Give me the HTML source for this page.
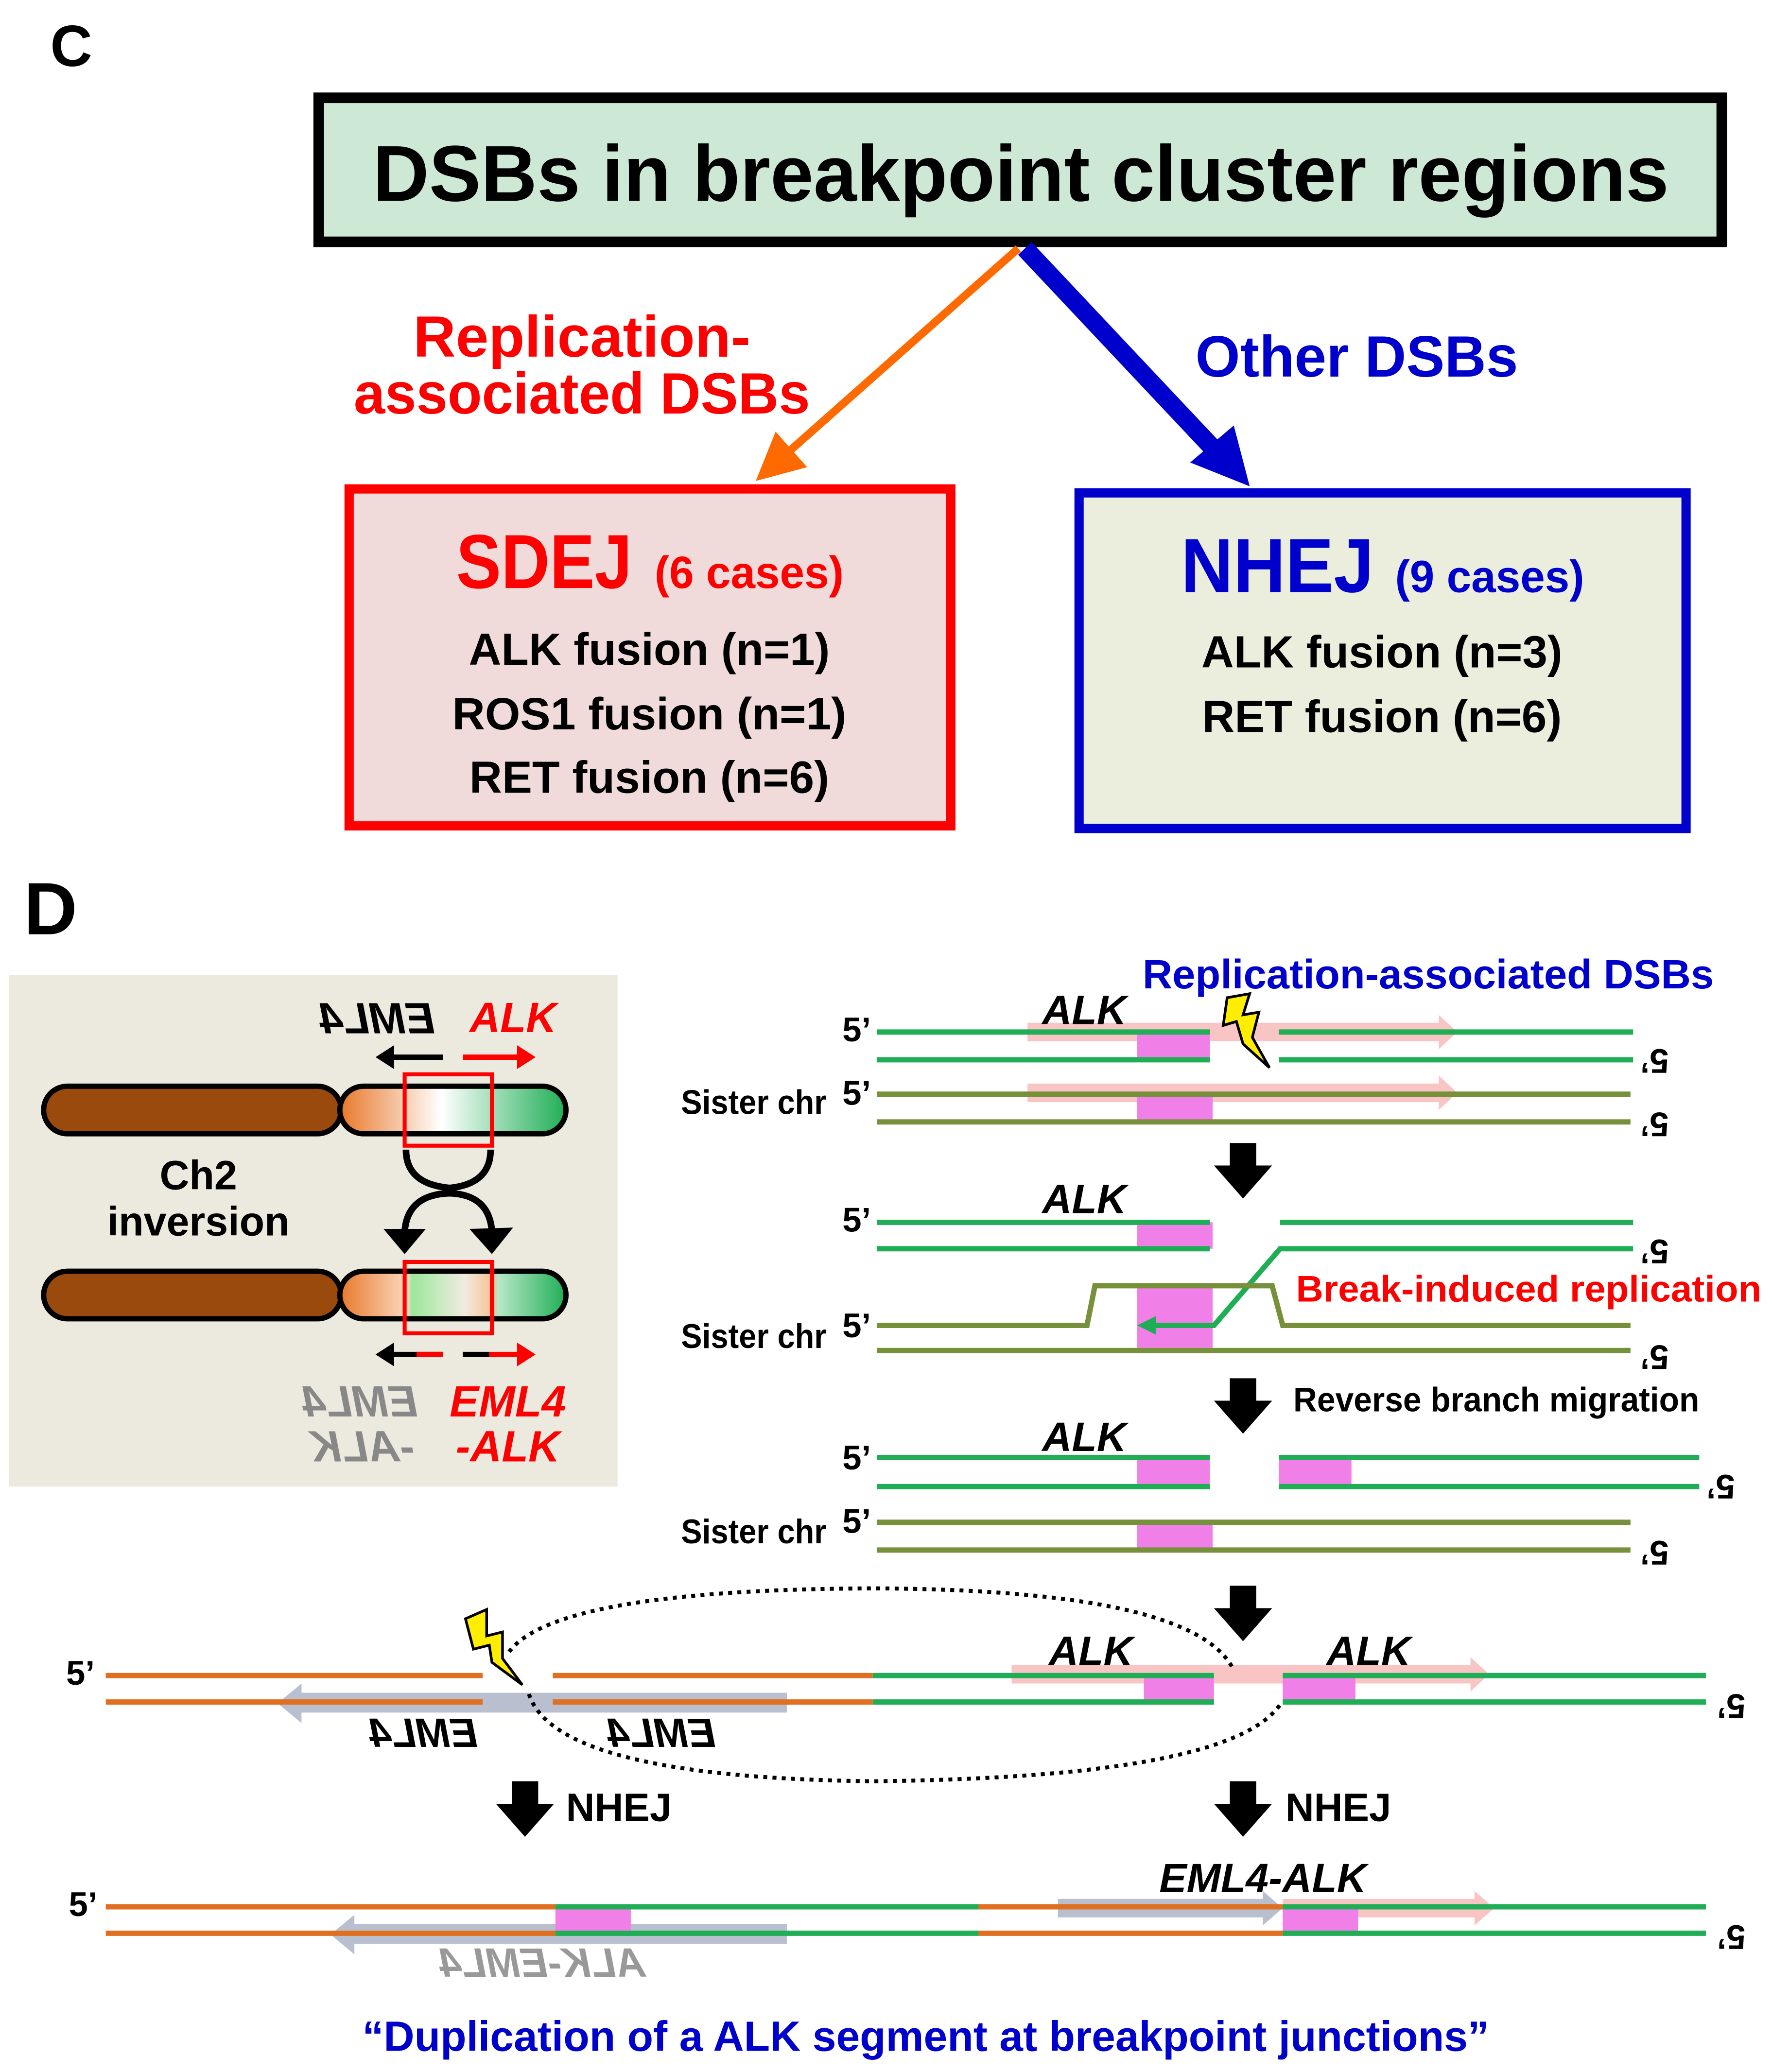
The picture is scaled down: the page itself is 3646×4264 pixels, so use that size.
<!DOCTYPE html>
<html><head><meta charset="utf-8"><style>html,body{margin:0;padding:0;background:#fff}svg{display:block}text{font-family:"Liberation Sans",sans-serif;font-weight:bold}</style></head>
<body>
<svg width="3646" height="4264" viewBox="0 0 1340 1568" preserveAspectRatio="none" xmlns="http://www.w3.org/2000/svg">
<defs>
<marker id="ao" markerWidth="6" markerHeight="6" refX="3" refY="3" orient="auto" markerUnits="strokeWidth"><path d="M0,0 L6,3 L0,6 z" fill="#ff6a00"/></marker>
<linearGradient id="g1" x1="0" x2="1"><stop offset="0" stop-color="#e8782a"/><stop offset="0.45" stop-color="#ffffff"/><stop offset="1" stop-color="#1fae55"/></linearGradient>
<linearGradient id="g2" x1="0" x2="1"><stop offset="0" stop-color="#e8782a"/><stop offset="0.3" stop-color="#fbd9c0"/><stop offset="0.32" stop-color="#9be89b"/><stop offset="0.55" stop-color="#f0ebe0"/><stop offset="0.68" stop-color="#f8c090"/><stop offset="0.7" stop-color="#b8e8c8"/><stop offset="1" stop-color="#1fae55"/></linearGradient>
</defs>
<rect width="1340" height="1568" fill="#fff"/>
<!-- C -->
<text x="38" y="50" font-size="44">C</text>
<rect x="241" y="74" width="1061" height="109" fill="#cde8d4" stroke="#000" stroke-width="8"/>
<text x="772" y="152" font-size="60" text-anchor="middle" textLength="980" lengthAdjust="spacingAndGlyphs">DSBs in breakpoint cluster regions</text>
<line x1="770" y1="188" x2="585" y2="352" stroke="#ff6a00" stroke-width="6" marker-end="url(#ao)"/>
<line x1="775" y1="188" x2="918" y2="340" stroke="#0000cc" stroke-width="14"/>
<path d="M900,350 L945,368 L933,322 z" fill="#0000cc"/>
<text x="440" y="270" font-size="44" fill="#ff0000" text-anchor="middle" textLength="255" lengthAdjust="spacingAndGlyphs">Replication-</text>
<text x="440" y="313" font-size="44" fill="#ff0000" text-anchor="middle" textLength="345" lengthAdjust="spacingAndGlyphs">associated DSBs</text>
<text x="1026" y="285" font-size="44" fill="#0000cc" text-anchor="middle" textLength="244" lengthAdjust="spacingAndGlyphs">Other DSBs</text>
<rect x="264" y="370" width="455" height="255" fill="#f0dada" stroke="#ff0000" stroke-width="7"/>
<text x="345" y="445" font-size="58" fill="#ff0000" textLength="133" lengthAdjust="spacingAndGlyphs">SDEJ</text>
<text x="495" y="445" font-size="34" fill="#ff0000" textLength="143" lengthAdjust="spacingAndGlyphs">(6 cases)</text>
<text x="491" y="503" font-size="34" text-anchor="middle" textLength="273" lengthAdjust="spacingAndGlyphs">ALK fusion (n=1)</text>
<text x="491" y="552" font-size="34" text-anchor="middle" textLength="298" lengthAdjust="spacingAndGlyphs">ROS1 fusion (n=1)</text>
<text x="491" y="600" font-size="34" text-anchor="middle" textLength="272" lengthAdjust="spacingAndGlyphs">RET fusion (n=6)</text>
<rect x="816" y="373" width="459" height="254" fill="#ebeedd" stroke="#0000cc" stroke-width="7"/>
<text x="893" y="448" font-size="58" fill="#0000cc" textLength="146" lengthAdjust="spacingAndGlyphs">NHEJ</text>
<text x="1055" y="448" font-size="34" fill="#0000cc" textLength="143" lengthAdjust="spacingAndGlyphs">(9 cases)</text>
<text x="1045" y="505" font-size="34" text-anchor="middle" textLength="273" lengthAdjust="spacingAndGlyphs">ALK fusion (n=3)</text>
<text x="1045" y="554" font-size="34" text-anchor="middle" textLength="272" lengthAdjust="spacingAndGlyphs">RET fusion (n=6)</text>
<!-- D -->
<text x="18" y="707" font-size="56">D</text>
<rect x="7" y="738" width="460" height="387" fill="#ece9df"/>
<rect x="33" y="822" width="225" height="36" rx="18" fill="#994a0c" stroke="#000" stroke-width="4"/>
<rect x="257" y="822" width="171" height="36" rx="18" fill="url(#g1)" stroke="#000" stroke-width="4"/>
<rect x="306" y="813" width="66" height="54" fill="none" stroke="#ff0000" stroke-width="3"/>
<rect x="33" y="962" width="225" height="36" rx="18" fill="#994a0c" stroke="#000" stroke-width="4"/>
<rect x="257" y="962" width="171" height="36" rx="18" fill="url(#g2)" stroke="#000" stroke-width="4"/>
<rect x="306" y="955" width="66" height="54" fill="none" stroke="#ff0000" stroke-width="3"/>
<text x="150" y="900" font-size="31" text-anchor="middle">Ch2</text>
<text x="150" y="935" font-size="31" text-anchor="middle">inversion</text>
<line x1="335" y1="800" x2="295" y2="800" stroke="#000" stroke-width="4"/><path d="M284,800 L298,791 L298,809z" fill="#000"/>
<line x1="350" y1="800" x2="393" y2="800" stroke="#f00" stroke-width="4"/><path d="M405,800 L391,791 L391,809z" fill="#f00"/>
<text transform="translate(285,782) scale(-1,1)" font-size="33" font-style="italic" text-anchor="middle">EML4</text>
<text x="388" y="781" font-size="32" font-style="italic" fill="#f00" text-anchor="middle">ALK</text>
<path d="M307,870 Q307,896 340,899 Q371,896 371,870" fill="none" stroke="#000" stroke-width="5"/>
<path d="M306,932 Q308,904 340,903 Q370,904 372,932" fill="none" stroke="#000" stroke-width="5"/>
<path d="M290,930 L322,930 L306,949z" fill="#000"/><path d="M355,930 L388,929 L372,949z" fill="#000"/>
<line x1="335" y1="1025" x2="295" y2="1025" stroke="#000" stroke-width="4"/><line x1="315" y1="1025" x2="335" y2="1025" stroke="#f00" stroke-width="4"/><path d="M284,1025 L298,1016 L298,1034z" fill="#000"/>
<line x1="350" y1="1025" x2="370" y2="1025" stroke="#000" stroke-width="4"/><line x1="370" y1="1025" x2="393" y2="1025" stroke="#f00" stroke-width="4"/><path d="M405,1025 L391,1016 L391,1034z" fill="#f00"/>
<text transform="translate(272,1072) scale(-1,1)" font-size="33" font-style="italic" fill="#888" text-anchor="middle">EML4</text>
<text transform="translate(274,1106) scale(-1,1)" font-size="33" font-style="italic" fill="#888" text-anchor="middle">-ALK</text>
<text x="384" y="1072" font-size="33" font-style="italic" fill="#f00" text-anchor="middle">EML4</text>
<text x="384" y="1106" font-size="33" font-style="italic" fill="#f00" text-anchor="middle">-ALK</text>
<!-- block1 -->
<path d="M777,774 H1088 V768 L1102,781 L1088,794 V788 H777z" fill="#f9c4c4"/>
<path d="M777,820 H1088 V814 L1102,827 L1088,840 V834 H777z" fill="#f9c4c4"/>
<rect x="860" y="781" width="55" height="21" fill="#f080e8"/>
<rect x="860" y="828" width="57" height="21" fill="#f080e8"/>
<g stroke="#1fae55" stroke-width="4"><line x1="663" y1="781" x2="915" y2="781"/><line x1="967" y1="781" x2="1235" y2="781"/><line x1="663" y1="802" x2="915" y2="802"/><line x1="967" y1="802" x2="1235" y2="802"/></g>
<g stroke="#77903a" stroke-width="4"><line x1="663" y1="828" x2="1233" y2="828"/><line x1="663" y1="849" x2="1233" y2="849"/></g>
<text x="1080" y="748" font-size="31" fill="#0000cc" text-anchor="middle" textLength="432" lengthAdjust="spacingAndGlyphs">Replication-associated DSBs</text>
<text x="820" y="775" font-size="31" font-style="italic" text-anchor="middle">ALK</text>
<path d="M928,755 L945,752 L940,768 L952,766 L947,785 L960,808 L940,790 L935,773 L925,776z" fill="#ffee00" stroke="#000" stroke-width="2"/>
<g font-size="26"><text x="637" y="788">5’</text><text x="637" y="836">5’</text><text x="515" y="843" textLength="110" lengthAdjust="spacingAndGlyphs">Sister chr</text>
<text transform="translate(1262,794) rotate(180)">5’</text><text transform="translate(1262,842) rotate(180)">5’</text></g>
<path d="M930,865 H950 V882 H962 L940,907 L918,882 H930z" fill="#000"/>
<!-- block2 -->
<rect x="860" y="925" width="57" height="20" fill="#f080e8"/>
<rect x="860" y="973" width="57" height="47" fill="#f080e8"/>
<g stroke="#1fae55" stroke-width="4" fill="none"><line x1="663" y1="925" x2="915" y2="925"/><line x1="968" y1="925" x2="1235" y2="925"/><line x1="663" y1="945" x2="915" y2="945"/><path d="M1235,945 H968 L918,1003 H872"/></g>
<path d="M860,1003 L874,996 L874,1010z" fill="#1fae55"/>
<g stroke="#77903a" stroke-width="4" fill="none"><path d="M663,1003 H822 L828,973 H962 L970,1003 H1233"/><line x1="663" y1="1022" x2="1233" y2="1022"/></g>
<text x="820" y="918" font-size="31" font-style="italic" text-anchor="middle">ALK</text>
<text x="980" y="985" font-size="28" fill="#f00" textLength="352" lengthAdjust="spacingAndGlyphs">Break-induced replication</text>
<g font-size="26"><text x="637" y="932">5’</text><text x="637" y="1012">5’</text><text x="515" y="1020" textLength="110" lengthAdjust="spacingAndGlyphs">Sister chr</text>
<text transform="translate(1262,938) rotate(180)">5’</text><text transform="translate(1262,1018) rotate(180)">5’</text></g>
<path d="M930,1043 H950 V1060 H962 L940,1085 L918,1060 H930z" fill="#000"/>
<text x="978" y="1068" font-size="26" textLength="307" lengthAdjust="spacingAndGlyphs">Reverse branch migration</text>
<!-- block3 -->
<rect x="860" y="1103" width="55" height="22" fill="#f080e8"/><rect x="967" y="1103" width="55" height="22" fill="#f080e8"/>
<rect x="860" y="1152" width="57" height="21" fill="#f080e8"/>
<g stroke="#1fae55" stroke-width="4"><line x1="663" y1="1103" x2="915" y2="1103"/><line x1="967" y1="1103" x2="1285" y2="1103"/><line x1="663" y1="1125" x2="915" y2="1125"/><line x1="967" y1="1125" x2="1285" y2="1125"/></g>
<g stroke="#77903a" stroke-width="4"><line x1="663" y1="1152" x2="1233" y2="1152"/><line x1="663" y1="1173" x2="1233" y2="1173"/></g>
<text x="820" y="1098" font-size="31" font-style="italic" text-anchor="middle">ALK</text>
<g font-size="26"><text x="637" y="1112">5’</text><text x="637" y="1160">5’</text><text x="515" y="1168" textLength="110" lengthAdjust="spacingAndGlyphs">Sister chr</text>
<text transform="translate(1312,1116) rotate(180)">5’</text><text transform="translate(1262,1166) rotate(180)">5’</text></g>
<path d="M930,1200 H950 V1217 H962 L940,1242 L918,1217 H930z" fill="#000"/>
<!-- block4 -->
<path d="M765,1260 H1112 V1254 L1126,1267 L1112,1280 V1274 H765z" fill="#f9c4c4"/>
<path d="M595,1281 H228 V1274 L210,1289 L228,1304 V1296 H595z" fill="#b8c0d0"/>
<rect x="865" y="1268" width="53" height="20" fill="#f080e8"/><rect x="970" y="1268" width="55" height="20" fill="#f080e8"/>
<g stroke="#e07020" stroke-width="4"><line x1="80" y1="1268" x2="365" y2="1268"/><line x1="418" y1="1268" x2="660" y2="1268"/><line x1="80" y1="1288" x2="365" y2="1288"/><line x1="418" y1="1288" x2="660" y2="1288"/></g>
<g stroke="#1fae55" stroke-width="4"><line x1="660" y1="1268" x2="918" y2="1268"/><line x1="970" y1="1268" x2="1290" y2="1268"/><line x1="660" y1="1288" x2="918" y2="1288"/><line x1="970" y1="1288" x2="1290" y2="1288"/></g>
<path d="M400,1282 Q420,1345 660,1348 Q930,1345 968,1290" fill="none" stroke="#000" stroke-width="3" stroke-dasharray="3,4"/>
<path d="M385,1250 Q420,1203 660,1202 Q900,1203 932,1262" fill="none" stroke="#000" stroke-width="3" stroke-dasharray="3,4"/>
<path d="M352,1225 L368,1218 L368,1238 L380,1235 L380,1255 L395,1275 L372,1258 L370,1245 L358,1248z" fill="#ffee00" stroke="#000" stroke-width="2"/>
<text x="825" y="1260" font-size="31" font-style="italic" text-anchor="middle">ALK</text>
<text x="1035" y="1260" font-size="31" font-style="italic" text-anchor="middle">ALK</text>
<text transform="translate(320,1322) scale(-1,1)" font-size="31" font-style="italic" text-anchor="middle">EML4</text>
<text transform="translate(500,1322) scale(-1,1)" font-size="31" font-style="italic" text-anchor="middle">EML4</text>
<g font-size="26"><text x="50" y="1275">5’</text><text transform="translate(1320,1282) rotate(180)">5’</text></g>
<path d="M387,1348 H407 V1365 H419 L397,1390 L375,1365 H387z" fill="#000"/>
<path d="M930,1348 H950 V1365 H962 L940,1390 L918,1365 H930z" fill="#000"/>
<text x="428" y="1378" font-size="30">NHEJ</text><text x="972" y="1378" font-size="30">NHEJ</text>
<!-- block5 -->
<path d="M800,1437 H955 V1431 L970,1444 L955,1457 V1451 H800z" fill="#b8c0d0"/>
<path d="M970,1437 H1115 V1431 L1130,1444 L1115,1457 V1451 H970z" fill="#f9c4c4"/>
<path d="M595,1456 H268 V1449 L250,1464 L268,1479 V1471 H595z" fill="#b8c0d0"/>
<rect x="420" y="1443" width="57" height="20" fill="#f080e8"/><rect x="970" y="1443" width="57" height="20" fill="#f080e8"/>
<g stroke="#e07020" stroke-width="4"><line x1="80" y1="1443" x2="420" y2="1443"/><line x1="80" y1="1463" x2="420" y2="1463"/><line x1="740" y1="1443" x2="970" y2="1443"/><line x1="740" y1="1463" x2="970" y2="1463"/></g>
<g stroke="#1fae55" stroke-width="4"><line x1="420" y1="1443" x2="740" y2="1443"/><line x1="420" y1="1463" x2="740" y2="1463"/><line x1="970" y1="1443" x2="1290" y2="1443"/><line x1="970" y1="1463" x2="1290" y2="1463"/></g>
<text x="955" y="1432" font-size="31" font-style="italic" text-anchor="middle">EML4-ALK</text>
<text transform="translate(410,1496) scale(-1,1)" font-size="31" font-style="italic" fill="#999" text-anchor="middle">ALK-EML4</text>
<g font-size="26"><text x="52" y="1450">5’</text><text transform="translate(1320,1457) rotate(180)">5’</text></g>
<text x="700" y="1552" font-size="32" fill="#0000cc" text-anchor="middle" textLength="852" lengthAdjust="spacingAndGlyphs">“Duplication of a ALK segment at breakpoint junctions”</text>
</svg>
</body></html>
